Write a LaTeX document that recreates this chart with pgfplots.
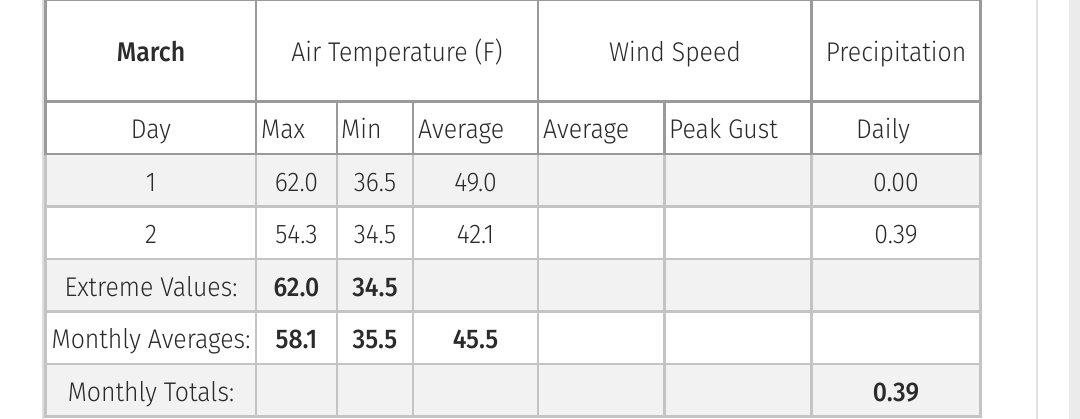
\documentclass[border=0pt]{standalone}
\usepackage{fontspec}
\IfFontExistsTF{Fira Sans Light}{%
  \IfFontExistsTF{Fira Sans Medium}{%
    \setmainfont{Fira Sans Light}[BoldFont={Fira Sans Medium}, FakeStretch=0.92]%
  }{%
    \setmainfont{Fira Sans Light}[BoldFont={Fira Sans}, FakeStretch=0.92]%
  }%
}{%
  \setmainfont{Fira Sans}[FakeStretch=0.92]%
}
\usepackage{pgfplots}
\usepackage{pgfplotstable}
\pgfplotsset{compat=1.18}
\definecolor{hdr}{HTML}{9A9A9A}
\definecolor{bdy}{HTML}{C4C4C4}
\definecolor{shade}{HTML}{F2F2F2}
\definecolor{txt}{HTML}{2B2B2B}
\definecolor{pagel}{HTML}{DDDDDD}
\definecolor{pager}{HTML}{E1E1E4}
\definecolor{band}{HTML}{EBEBEB}

\pgfplotstableread{
x y label
296.5 191.3 62.0
375 191.3 36.5
475.5 191.3 49.0
896 191.3 0.00
296.5 243.8 54.3
375 243.8 34.5
475.5 243.8 42.1
896 243.8 0.39
}\lightvals

\pgfplotstableread{
x y label
296.5 296.3 62.0
375 296.3 34.5
296.5 348.8 58.1
375 348.8 35.5
475.5 348.8 45.5
896 401.3 0.39
}\boldvals

\pgfplotstableread{
x y label
151 191.3 1
151 243.8 2
}\dayvals

\newcommand{\tf}{\fontsize{27}{31}\selectfont}

\begin{document}
\begin{tikzpicture}
\begin{axis}[
  width=1080pt, height=419pt, scale only axis,
  xmin=0, xmax=1080, ymin=0, ymax=419, y dir=reverse,
  hide axis, clip=true,
]
% white background over the whole picture
\addplot[fill=white, draw=none] coordinates {(0,0) (1080,0) (1080,419) (0,419)} -- cycle;
% page decorations
\addplot[fill=band, draw=none] coordinates {(1069,0) (1080,0) (1080,419) (1069,419)} -- cycle;
\addplot[color=pagel, line width=2pt] coordinates {(43,0) (43,419)};
\addplot[color=pager, line width=2pt] coordinates {(1037,0) (1037,419)};
% shaded rows
\addplot[fill=shade, draw=none] coordinates {(45.5,154) (980.5,154) (980.5,206.5) (45.5,206.5)} -- cycle;
\addplot[fill=shade, draw=none] coordinates {(45.5,259) (980.5,259) (980.5,311.5) (45.5,311.5)} -- cycle;
\addplot[fill=shade, draw=none] coordinates {(45.5,364) (980.5,364) (980.5,416.5) (45.5,416.5)} -- cycle;
% body lines
\addplot[color=bdy, line width=2.8pt] coordinates {(45.5,206.5) (980.5,206.5)};
\addplot[color=bdy, line width=2.8pt] coordinates {(45.5,259) (980.5,259)};
\addplot[color=bdy, line width=2.8pt] coordinates {(45.5,311.5) (980.5,311.5)};
\addplot[color=bdy, line width=2.8pt] coordinates {(45.5,364) (980.5,364)};
\addplot[color=bdy, line width=2.8pt] coordinates {(44.1,416.5) (981.9,416.5)};
\addplot[color=bdy, line width=2.8pt] coordinates {(45.5,154) (45.5,416.5)};
\addplot[color=bdy, line width=2.8pt] coordinates {(256,154) (256,416.5)};
\addplot[color=bdy, line width=2.8pt] coordinates {(337,154) (337,416.5)};
\addplot[color=bdy, line width=2.8pt] coordinates {(413,154) (413,416.5)};
\addplot[color=bdy, line width=2.8pt] coordinates {(538,154) (538,416.5)};
\addplot[color=bdy, line width=2.8pt] coordinates {(664.5,154) (664.5,416.5)};
\addplot[color=bdy, line width=2.8pt] coordinates {(811.5,154) (811.5,416.5)};
\addplot[color=bdy, line width=2.8pt] coordinates {(980.5,154) (980.5,416.5)};
% header lines
\addplot[color=hdr, line width=1.5pt] coordinates {(45.5,0.5) (980.5,0.5)};
\addplot[color=hdr, line width=2.8pt] coordinates {(45.5,0) (45.5,154)};
\addplot[color=hdr, line width=2.8pt] coordinates {(256,0) (256,154)};
\addplot[color=hdr, line width=2.8pt] coordinates {(538,0) (538,154)};
\addplot[color=hdr, line width=2.8pt] coordinates {(811.5,0) (811.5,154)};
\addplot[color=hdr, line width=2.8pt] coordinates {(980.5,0) (980.5,154)};
\addplot[color=hdr, line width=2.8pt] coordinates {(337,101.5) (337,154)};
\addplot[color=hdr, line width=2.8pt] coordinates {(413,101.5) (413,154)};
\addplot[color=hdr, line width=2.8pt] coordinates {(664.5,101.5) (664.5,154)};
\addplot[color=hdr, line width=2.8pt] coordinates {(44.1,101.5) (981.9,101.5)};
\addplot[color=hdr, line width=2.8pt] coordinates {(44.1,154) (981.9,154)};
% values
\addplot[draw=none, mark=none, point meta=explicit symbolic, nodes near coords,
  every node near coord/.append style={anchor=base, inner sep=0pt, text=txt, font=\tf}]
  table[x=x, y=y, meta=label] {\lightvals};
\addplot[draw=none, mark=none, point meta=explicit symbolic, nodes near coords,
  every node near coord/.append style={anchor=base, inner sep=0pt, text=txt, font=\tf\bfseries}]
  table[x=x, y=y, meta=label] {\boldvals};
\addplot[draw=none, mark=none, point meta=explicit symbolic, nodes near coords,
  every node near coord/.append style={anchor=base, inner sep=0pt, text=txt, font=\tf}]
  table[x=x, y=y, meta=label] {\dayvals};
% header text
\node[anchor=base, inner sep=0pt, text=txt, font=\tf\bfseries] at (axis cs:151,61.5) {March};
\node[anchor=base, inner sep=0pt, text=txt, font=\tf] at (axis cs:397,61.5) {Air Temperature (F)};
\node[anchor=base, inner sep=0pt, text=txt, font=\tf] at (axis cs:675,61.5) {Wind Speed};
\node[anchor=base, inner sep=0pt, text=txt, font=\tf] at (axis cs:896,61.5) {Precipitation};
\node[anchor=base, inner sep=0pt, text=txt, font=\tf] at (axis cs:151,138.5) {Day};
\node[anchor=base west, inner sep=0pt, text=txt, font=\tf] at (axis cs:261,138.5) {Max};
\node[anchor=base west, inner sep=0pt, text=txt, font=\tf] at (axis cs:341,138.5) {Min};
\node[anchor=base west, inner sep=0pt, text=txt, font=\tf] at (axis cs:418,138.5) {Average};
\node[anchor=base west, inner sep=0pt, text=txt, font=\tf] at (axis cs:543,138.5) {Average};
\node[anchor=base west, inner sep=0pt, text=txt, font=\tf] at (axis cs:669,138.5) {Peak Gust};
\node[anchor=base, inner sep=0pt, text=txt, font=\tf] at (axis cs:883,138.5) {Daily};
\node[anchor=base, inner sep=0pt, text=txt, font=\tf] at (axis cs:151,296.3) {Extreme Values:};
\node[anchor=base, inner sep=0pt, text=txt, font=\tf] at (axis cs:151,348.8) {Monthly Averages:};
\node[anchor=base, inner sep=0pt, text=txt, font=\tf] at (axis cs:151,401.3) {Monthly Totals:};
\end{axis}
\end{tikzpicture}
\end{document}
